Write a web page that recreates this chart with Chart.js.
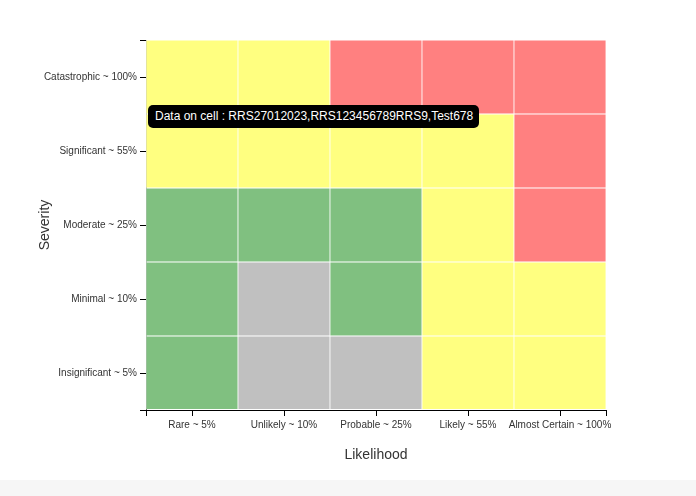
<!DOCTYPE html>
<html>
<head>
<meta charset="utf-8">
<script src="https://cdn.jsdelivr.net/npm/chart.js@4.4.1/dist/chart.umd.min.js"></script>
<style>
  html, body { margin: 0; padding: 0; background: #f6f6f6; }
  #card { position: relative; width: 696px; height: 480px; background: #fff; box-shadow: 0 2px 6px rgba(0,0,0,0.07); }
  #chart { display: block; }
  #tip { position: absolute; left: 148px; top: 105px; height: 23px; padding: 0 6px 0 7px;
         background: #000; color: #fff; border-radius: 5px; white-space: nowrap;
         font: 12px "Liberation Sans", Arial, sans-serif; line-height: 23px; }
</style>
</head>
<body>
<div id="card">
  <canvas id="chart" width="696" height="480"></canvas>
  <div id="tip">Data on cell : RRS27012023,RRS123456789RRS9,Test678</div>
</div>
<script>
// Categories
const likelihoodLabels = ['Rare ~ 5%', 'Unlikely ~ 10%', 'Probable ~ 25%', 'Likely ~ 55%', 'Almost Certain ~ 100%'];
const severityLabels = ['Insignificant ~ 5%', 'Minimal ~ 10%', 'Moderate ~ 25%', 'Significant ~ 55%', 'Catastrophic ~ 100%'];
// Risk level per cell (0 = none, 1 = low, 2 = medium, 3 = high), one array per severity row
const riskInsignificant = [1, 0, 0, 2, 2];
const riskMinimal       = [1, 0, 1, 2, 2];
const riskModerate      = [1, 1, 1, 2, 3];
const riskSignificant   = [2, 2, 2, 2, 3];
const riskCatastrophic  = [2, 2, 3, 3, 3];
// Each cell spans one severity band
const cellSpan = [1, 1, 1, 1, 1];
const levelColors = ['#c0c0c0', '#80c080', '#ffff80', '#ff8080'];

const rows = [riskInsignificant, riskMinimal, riskModerate, riskSignificant, riskCatastrophic];
const FONT = '"Liberation Sans", Arial, sans-serif';

const datasets = rows.map((r, i) => ({
  label: severityLabels[i],
  data: cellSpan,
  backgroundColor: r.map(l => levelColors[l]),
  borderColor: 'rgba(255,255,255,0.75)',
  borderWidth: 0.75,
  borderSkipped: false,
  barPercentage: 1,
  categoryPercentage: 1
}));

const edgeTicks = {
  id: 'edgeTicks',
  afterDraw(chart) {
    const { ctx, chartArea } = chart;
    ctx.save();
    ctx.strokeStyle = '#000';
    ctx.lineWidth = 1;
    ctx.beginPath();
    [chartArea.left, chartArea.right].forEach(x => {
      const px = Math.round(x) + 0.5;
      ctx.moveTo(px, chartArea.bottom);
      ctx.lineTo(px, chartArea.bottom + 6);
    });
    ctx.stroke();
    ctx.restore();
  }
};

new Chart(document.getElementById('chart'), {
  type: 'bar',
  data: { labels: likelihoodLabels, datasets },
  plugins: [edgeTicks],
  options: {
    responsive: false,
    animation: false,
    layout: { padding: { left: 33, top: 40, right: 90, bottom: 12 } },
    plugins: { legend: { display: false }, tooltip: { enabled: false } },
    scales: {
      x: {
        stacked: true,
        afterFit(s) { s.height = 58; },
        grid: { display: true, offset: false, drawOnChartArea: false, drawTicks: true, tickLength: 6, color: '#000' },
        border: { display: true, color: '#000', width: 1 },
        ticks: { color: '#333', font: { family: FONT, size: 10 }, padding: 3, maxRotation: 0, autoSkip: false },
        title: { display: true, text: 'Likelihood', color: '#333', font: { family: FONT, size: 14 }, padding: { top: 4, bottom: 4 } }
      },
      y: {
        stacked: true,
        min: 0,
        max: 5,
        afterFit(s) { s.width = 113; },
        afterBuildTicks(s) {
          s.ticks = [0, 0.5, 1.5, 2.5, 3.5, 4.5, 5].map(v => ({ value: v }));
        },
        grid: { display: true, drawOnChartArea: false, drawTicks: true, tickLength: 6, color: '#000' },
        border: { display: true, color: '#000', width: 1 },
        ticks: {
          color: '#333', font: { family: FONT, size: 10 }, padding: 3, autoSkip: false,
          callback(v) {
            const i = Math.floor(v);
            return (v % 1 === 0.5) ? severityLabels[i] : '';
          }
        },
        title: { display: true, text: 'Severity', color: '#333', font: { family: FONT, size: 14 }, padding: { top: 4, bottom: 4 } }
      }
    }
  }
});
</script>
</body>
</html>
